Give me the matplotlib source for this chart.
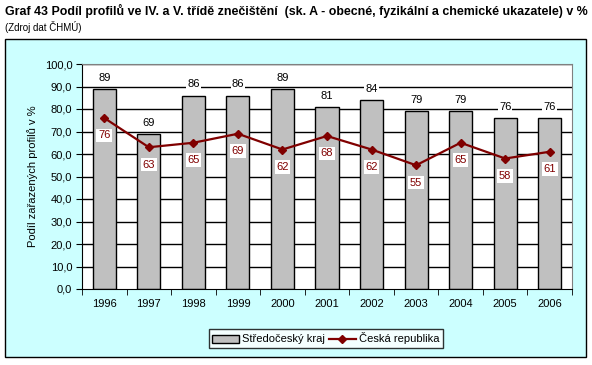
import matplotlib
matplotlib.use("Agg")
import matplotlib.pyplot as plt
from matplotlib.patches import Rectangle
import numpy as np

years = ["1996", "1997", "1998", "1999", "2000", "2001", "2002", "2003", "2004", "2005", "2006"]
stredocesky = [89, 69, 86, 86, 89, 81, 84, 79, 79, 76, 76]
cr = [76, 63, 65, 69, 62, 68, 62, 55, 65, 58, 61]
yticks = [0, 10, 20, 30, 40, 50, 60, 70, 80, 90, 100]

plt.rcParams['font.family'] = ['Liberation Sans', 'DejaVu Sans']

W, H = 592, 365
fig = plt.figure(figsize=(W / 100, H / 100), dpi=100)
fig.patch.set_facecolor('white')

def fx(px):
    return px / W

def fy(py):
    return 1 - py / H

# chart area
fig.patches.append(Rectangle((fx(5), fy(357)), fx(586) - fx(5), fy(39) - fy(357),
                             transform=fig.transFigure, facecolor='#CCFFFF',
                             edgecolor='black', linewidth=1, zorder=-10))

fig.text(fx(5), fy(11), "Graf 43 Podíl profilů ve IV. a V. třídě znečištění  (sk. A - obecné, fyzikální a chemické ukazatele) v %",
         fontsize=8.95, fontweight='bold', va='center', ha='left')
fig.text(fx(5), fy(27), "(Zdroj dat ČHMÚ)", fontsize=7, va='center', ha='left')

ax = fig.add_axes([fx(82), fy(289), fx(572) - fx(82), fy(64) - fy(289)])
ax.set_zorder(1)
ax.set_facecolor('white')
x = np.arange(len(years))

fs = 8
ax.set_ylim(0, 100)
ax.set_xlim(-0.5, len(years) - 0.5)
ax.set_yticks(yticks)
ax.set_yticklabels([f"{v:.1f}".replace('.', ',') for v in yticks], fontsize=fs)
for v in yticks[1:]:
    ax.axhline(v, color='black', linewidth=1, zorder=1)

bars = ax.bar(x, stredocesky, width=0.52, color='#C0C0C0', edgecolor='black', linewidth=1,
              zorder=2, label='Středočeský kraj')
line, = ax.plot(x, cr, color='#800000', linewidth=1.6, marker='D', markersize=4,
                zorder=4, label='Česká republika')

for xi, v in zip(x, stredocesky):
    ax.annotate(f"{v}", (xi, v), xytext=(0, 8), textcoords='offset points',
                ha='center', va='center', fontsize=fs, color='black', zorder=5,
                bbox=dict(boxstyle='square,pad=0.1', facecolor='white', edgecolor='none'))
for xi, v in zip(x, cr):
    ax.annotate(f"{v}", (xi, v), xytext=(0, -12.5), textcoords='offset points',
                ha='center', va='center', fontsize=fs, color='#800000', zorder=5,
                bbox=dict(boxstyle='square,pad=0.15', facecolor='white', edgecolor='none'))

ax.set_xticks(x)
ax.set_xticklabels(years, fontsize=fs)
ax.tick_params(axis='x', which='major', length=0, pad=7)
ax.set_xticks(np.arange(-0.5, len(years), 1), minor=True)
ax.tick_params(axis='x', which='minor', length=4, direction='out', color='black')
ax.tick_params(axis='y', length=4, direction='out', pad=3)

for s in ['top', 'right']:
    ax.spines[s].set_color('#808080')
for s in ['left', 'bottom']:
    ax.spines[s].set_color('black')

ax.set_ylabel("Podíl zařazených profilů v %", fontsize=fs, labelpad=5)

leg = fig.legend(handles=[bars, line], loc='center', bbox_to_anchor=(fx(326), fy(338.5)),
                 ncol=2, fontsize=fs, frameon=True, fancybox=False, edgecolor='black',
                 borderpad=0.3, handlelength=2.4, columnspacing=0.35, handletextpad=0.3,
                 borderaxespad=0)
leg.get_frame().set_linewidth(1)

fig.savefig("out.png", dpi=100, facecolor='white')
